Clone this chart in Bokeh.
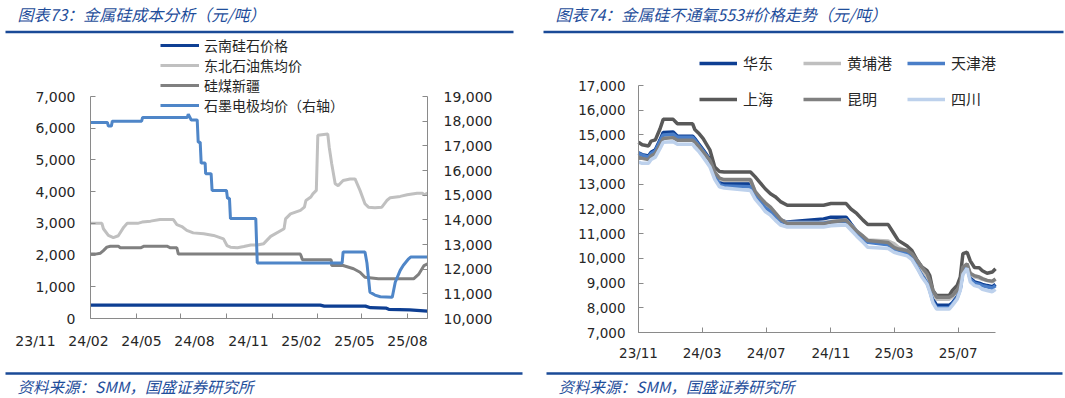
from datetime import datetime
import pandas as pd
from bokeh.plotting import figure
from bokeh.models import (Range1d, LinearAxis, DatetimeAxis, FixedTicker, NumeralTickFormatter,
                          DatetimeTickFormatter, Legend, LegendItem, Label,
                          CustomJSTickFormatter)
from bokeh.layouts import row, column
from bokeh.embed import file_html
from bokeh.resources import INLINE
from bokeh.core.properties import value

CJK = "Noto Sans CJK SC"
NUM = "DejaVu Sans"

# ---------------- texts ----------------
title_left = "图表73：金属硅成本分析（元/吨）"
title_right = "图表74：金属硅不通氧553#价格走势（元/吨）"
source_text = "资料来源：SMM，国盛证券研究所"

# ---------------- left chart data ----------------
left_names = ["云南硅石价格", "东北石油焦均价", "硅煤新疆", "石墨电极均价（右轴）"]

yn_dates = ["2023-11-01", "2025-02-06", "2025-02-14", "2025-05-08", "2025-05-18",
            "2025-06-18", "2025-06-24", "2025-08-05", "2025-09-10"]
yn_vals = [420, 420, 390, 390, 340, 330, 290, 270, 230]

coke_dates = ["2023-11-01", "2023-11-24", "2023-11-27", "2023-12-07", "2023-12-17",
              "2023-12-27", "2024-01-07", "2024-01-14", "2024-02-04", "2024-02-13",
              "2024-03-01", "2024-03-20", "2024-04-16", "2024-04-23", "2024-05-03",
              "2024-05-13", "2024-05-26", "2024-06-16", "2024-07-06", "2024-07-26",
              "2024-08-02", "2024-08-09", "2024-08-23", "2024-09-05", "2024-09-19",
              "2024-10-02", "2024-10-15", "2024-10-29", "2024-11-25", "2024-11-28",
              "2024-12-08", "2024-12-28", "2025-01-05", "2025-01-08", "2025-01-18",
              "2025-01-22", "2025-01-29", "2025-02-01", "2025-02-21", "2025-02-24",
              "2025-03-01", "2025-03-08", "2025-03-14", "2025-03-24", "2025-04-07",
              "2025-04-17", "2025-04-27", "2025-05-07", "2025-05-14", "2025-05-27",
              "2025-06-10", "2025-06-20", "2025-06-27", "2025-07-17", "2025-07-31",
              "2025-08-20", "2025-08-31", "2025-09-03", "2025-09-10"]
coke_vals = [3000, 3000, 2830, 2620, 2550, 2610, 2880, 3000, 3000, 3040,
             3070, 3120, 3120, 2960, 2900, 2780, 2700, 2670, 2620, 2510,
             2300, 2250, 2230, 2270, 2320, 2320, 2360, 2590, 2830, 3140,
             3300, 3410, 3510, 3720, 3830, 3930, 4040, 5780, 5820, 5400,
             4880, 4250, 4190, 4350, 4400, 4400, 4040, 3620, 3510, 3490,
             3510, 3720, 3810, 3850, 3900, 3950, 3950, 3900, 3950]

coal_dates = ["2023-11-01", "2023-11-11", "2023-11-21", "2023-11-27", "2023-12-04",
              "2023-12-11", "2023-12-27", "2023-12-31", "2024-02-10", "2024-02-17",
              "2024-04-03", "2024-04-10", "2024-04-23", "2024-04-26", "2024-12-28",
              "2025-01-01", "2025-02-28", "2025-03-01", "2025-03-24", "2025-04-14",
              "2025-04-27", "2025-05-07", "2025-06-03", "2025-08-13", "2025-08-23",
              "2025-09-03", "2025-09-10"]
coal_vals = [2030, 2030, 2060, 2140, 2250, 2280, 2280, 2230, 2230, 2280,
             2280, 2230, 2230, 2030, 2030, 1850, 1850, 1670, 1670, 1570,
             1460, 1300, 1250, 1250, 1390, 1670, 1720]

gr_dates = ["2023-11-01", "2023-12-05", "2023-12-07", "2023-12-13", "2023-12-15",
            "2024-02-12", "2024-02-14", "2024-05-14", "2024-05-16", "2024-05-22",
            "2024-06-03", "2024-06-05", "2024-06-09", "2024-06-11", "2024-06-19",
            "2024-06-20", "2024-07-01", "2024-07-03", "2024-08-01", "2024-08-03",
            "2024-08-07", "2024-08-09", "2024-09-29", "2024-10-02", "2025-03-22",
            "2025-03-24", "2025-05-07", "2025-05-11", "2025-05-17", "2025-05-27",
            "2025-06-07", "2025-07-01", "2025-07-07", "2025-07-17", "2025-07-23",
            "2025-08-03", "2025-08-07", "2025-09-10"]
gr_vals = [17950, 17950, 17800, 17800, 18000, 18000, 18150, 18150, 18280, 18050,
           18050, 17150, 17150, 16300, 16300, 15870, 15870, 15190, 15190, 14870,
           14870, 14050, 14050, 12250, 12250, 12700, 12700, 12250, 11070, 10950,
           10880, 10860, 11470, 11950, 12150, 12420, 12490, 12490]

left_xticks = ["2023-11-01", "2024-02-01", "2024-05-01", "2024-08-01",
               "2024-11-01", "2025-02-01", "2025-05-01", "2025-08-01"]
left_xlabels = ["23/11", "24/02", "24/05", "24/08", "24/11", "25/02", "25/05", "25/08"]

# ---------------- right chart data ----------------
right_names = ["华东", "黄埔港", "天津港", "上海", "昆明", "四川"]
rc_dates = ["2023-11-01", "2023-11-08", "2023-11-20", "2023-11-25", "2023-12-03",
            "2023-12-12", "2023-12-18", "2024-01-06", "2024-01-14", "2024-02-12",
            "2024-02-16", "2024-02-23", "2024-03-03", "2024-03-16", "2024-03-25",
            "2024-04-03", "2024-04-12", "2024-06-01", "2024-06-10", "2024-06-20",
            "2024-06-29", "2024-07-09", "2024-07-18", "2024-07-28", "2024-08-10",
            "2024-10-18", "2024-11-01", "2024-11-30", "2024-12-09", "2024-12-20",
            "2025-01-01", "2025-01-10", "2025-02-18", "2025-03-01", "2025-03-09",
            "2025-03-26", "2025-04-04", "2025-04-14", "2025-04-23", "2025-05-03",
            "2025-05-08", "2025-05-14", "2025-05-21", "2025-06-14", "2025-06-20",
            "2025-06-29", "2025-07-05", "2025-07-10", "2025-07-18", "2025-07-24",
            "2025-08-01", "2025-08-10", "2025-08-16", "2025-08-25", "2025-09-04",
            "2025-09-10"]
huadong = [14270, 14200, 14150, 14300, 14400, 14800, 15100, 15120, 14950, 14950,
           14850, 14650, 14400, 14000, 13450, 13100, 13030, 13030, 12600, 12350,
           12100, 11950, 11750, 11550, 11470, 11600, 11670, 11670, 11400, 11100,
           10850, 10700, 10600, 10400, 10330, 10250, 10100, 9750, 9400, 9100,
           8800, 8350, 8100, 8100, 8200, 8450, 8800, 9500, 9700, 9200,
           9050, 9000, 8950, 8900, 8850, 8950]
huangpu = [14150, 14100, 14050, 14200, 14300, 14650, 14900, 14900, 14800, 14800,
           14700, 14550, 14300, 13950, 13500, 13200, 13150, 13150, 12700, 12450,
           12200, 12000, 11800, 11550, 11450, 11450, 11500, 11550, 11350, 11100,
           10900, 10750, 10700, 10600, 10450, 10300, 10150, 9850, 9550, 9250,
           9000, 8600, 8350, 8350, 8450, 8650, 8950, 9600, 9750, 9350,
           9250, 9200, 9150, 9100, 9050, 9150]
tianjin = [14250, 14180, 14100, 14250, 14350, 14750, 15000, 15030, 14900, 14900,
           14800, 14600, 14350, 13950, 13400, 13000, 12930, 12900, 12550, 12300,
           12050, 11900, 11700, 11500, 11420, 11420, 11480, 11500, 11300, 11050,
           10800, 10650, 10550, 10350, 10280, 10200, 10000, 9650, 9300, 9000,
           8700, 8250, 8000, 8000, 8150, 8400, 8750, 9450, 9650, 9150,
           9000, 8950, 8900, 8850, 8800, 8900]
shanghai = [14700, 14600, 14550, 14750, 14800, 15250, 15630, 15630, 15450, 15450,
            15220, 15080, 14850, 14380, 13700, 13520, 13500, 13500, 13300, 13050,
            12820, 12620, 12500, 12300, 12150, 12150, 12220, 12220, 12000, 11820,
            11550, 11370, 11370, 11000, 10730, 10500, 10320, 9920, 9650, 9500,
            9300, 8700, 8500, 8500, 8700, 8900, 9240, 10190, 10250, 9900,
            9630, 9620, 9500, 9400, 9450, 9580]
kunming = [14100, 14050, 14000, 14150, 14250, 14600, 14850, 14890, 14780, 14780,
           14700, 14550, 14300, 13970, 13500, 13250, 13190, 13190, 12700, 12450,
           12250, 12080, 11850, 11600, 11400, 11400, 11470, 11540, 11340, 11100,
           10900, 10720, 10640, 10450, 10380, 10320, 10190, 9920, 9650, 9380,
           9110, 8700, 8430, 8430, 8500, 8700, 8970, 9650, 9780, 9400,
           9300, 9250, 9180, 9110, 9080, 9170]
sichuan = [13900, 13850, 13850, 14000, 14100, 14450, 14700, 14720, 14620, 14620,
           14500, 14350, 14100, 13700, 13200, 12900, 12850, 12750, 12400, 12150,
           11900, 11750, 11550, 11350, 11270, 11270, 11320, 11350, 11150, 10900,
           10650, 10450, 10400, 10250, 10200, 10100, 9950, 9600, 9250, 8950,
           8650, 8200, 7950, 7950, 8100, 8350, 8700, 9350, 9600, 9050,
           8900, 8850, 8750, 8700, 8650, 8750]

right_xticks = ["2023-11-01", "2024-03-01", "2024-07-01", "2024-11-01",
                "2025-03-01", "2025-07-01"]

# ---------------- styles / layout geometry (page pixels) ----------------
BLUE_TXT = "#1F4E9B"
RULE = "#1A4A97"
AX = "#8A8A8A"
LBL = "#262626"

PAGE_W, PAGE_H = 1065, 398
HDR_H, FTR_H = 34, 36
MID_TOP, MID_BOT = HDR_H, PAGE_H - FTR_H      # 34 .. 362
MID_H = MID_BOT - MID_TOP

x_start = datetime(2023, 11, 1)
x_end = datetime(2025, 9, 10)


def ms(d):
    return float(pd.Timestamp(d).value // 10**6)


def dt(lst):
    return pd.to_datetime(lst)


MS0, MS1 = ms(x_start), ms(x_end)


def style_axis(ax, size, standoff):
    ax.axis_line_color = AX
    ax.axis_line_width = 1
    ax.major_tick_line_color = AX
    ax.major_tick_in = 5
    ax.major_tick_out = 0
    ax.minor_tick_line_color = None
    ax.major_label_text_font = NUM
    ax.major_label_text_font_size = size
    ax.major_label_text_color = LBL
    ax.major_label_standoff = standoff


def ranges(fig_left, fig_w, px0, px1, py_top, py_bot, v0, v1):
    """Extend data ranges so that [v0, v1] sits on page pixels [py_bot, py_top]."""
    span = MS1 - MS0
    k = span / (px1 - px0)
    xr = (MS0 - (px0 - fig_left) * k, MS1 + (fig_left + fig_w - px1) * k)
    kv = (v1 - v0) / (py_bot - py_top)
    yr = (v0 - (MID_BOT - py_bot) * kv, v1 + (py_top - MID_TOP) * kv)
    return xr, yr


def new_fig(w, xr, yr):
    p = figure(width=w, height=MID_H, x_range=Range1d(*xr), y_range=Range1d(*yr),
               x_axis_location=None, y_axis_location=None, min_border=0,
               output_backend="svg", toolbar_location=None)
    p.grid.visible = False
    p.outline_line_color = None
    return p


def legend(p, rr, name, vx, vy, gw, standoff, fsize):
    p.add_layout(Legend(items=[LegendItem(label=name, renderers=[rr])], location=(vx, vy),
                        padding=0, margin=0, border_line_color=None, background_fill_alpha=0,
                        glyph_width=gw, glyph_height=20, label_height=20, label_standoff=standoff,
                        label_text_font=CJK, label_text_font_size=fsize,
                        label_text_color=LBL))


# ---------------- header ----------------
hdr = figure(width=PAGE_W, height=HDR_H, x_range=Range1d(0, PAGE_W), y_range=Range1d(HDR_H, 0),
             output_backend="svg", toolbar_location=None, min_border=0,
             x_axis_location=None, y_axis_location=None)
hdr.grid.visible = False
hdr.outline_line_color = None
hdr.text(x=[17, 555], y=[13.5, 13.5], text=[title_left, title_right],
         text_font=value(CJK), text_font_style="italic", text_font_size="16px",
         text_color=BLUE_TXT, text_baseline="middle", text_align="left")
hdr.segment(x0=[5, 543], x1=[513, 1063], y0=[31.5, 31.5], y1=[31.5, 31.5],
            line_width=2.5, line_color=RULE)

# ---------------- footer ----------------
ftr = figure(width=PAGE_W, height=FTR_H, x_range=Range1d(0, PAGE_W),
             y_range=Range1d(PAGE_H, MID_BOT),
             output_backend="svg", toolbar_location=None, min_border=0,
             x_axis_location=None, y_axis_location=None)
ftr.grid.visible = False
ftr.outline_line_color = None
ftr.segment(x0=[5, 546], x1=[522, 1062], y0=[373, 373], y1=[373, 373],
            line_width=2.5, line_color=RULE)
ftr.text(x=[17, 558], y=[385, 385], text=[source_text, source_text],
         text_font=value(CJK), text_font_style="italic", text_font_size="15.5px",
         text_color=BLUE_TXT, text_baseline="middle", text_align="left")

# ---------------- left chart ----------------
L_LEFT, L_W = 0, 533
xr1, yr1 = ranges(L_LEFT, L_W, 90, 427, 96, 318, 0, 7000)
_, yr1r = ranges(L_LEFT, L_W, 90, 427, 96, 318, 10000, 19000)
p1 = new_fig(L_W, xr1, yr1)
p1.extra_y_ranges = {"r": Range1d(*yr1r)}

ax_l = LinearAxis(fixed_location=MS0, bounds=(0, 7000),
                  ticker=FixedTicker(ticks=list(range(0, 7001, 1000))),
                  formatter=NumeralTickFormatter(format="0,0"))
ax_r = LinearAxis(y_range_name="r", fixed_location=MS1, bounds=(10000, 19000),
                  ticker=FixedTicker(ticks=list(range(10000, 19001, 1000))),
                  formatter=NumeralTickFormatter(format="0,0"))
ax_b = LinearAxis(fixed_location=0, bounds=(MS0, MS1),
                  ticker=FixedTicker(ticks=[ms(d) for d in left_xticks]),
                  formatter=CustomJSTickFormatter(code="return ''"))
style_axis(ax_l, "14px", 15)
style_axis(ax_r, "14px", 16)
style_axis(ax_b, "14px", 14)
p1.add_layout(ax_l, "left")
p1.add_layout(ax_r, "right")
p1.add_layout(ax_b, "below")

r_yn = p1.line(dt(yn_dates), yn_vals, line_color="#0E3F93", line_width=3.2)
r_coke = p1.line(dt(coke_dates), coke_vals, line_color="#C0C0C0", line_width=3)
r_coal = p1.line(dt(coal_dates), coal_vals, line_color="#808080", line_width=3)
r_gr = p1.line(dt(gr_dates), gr_vals, line_color="#4F86C8", line_width=3, y_range_name="r")

# legend rows (page y centres); glyph starts at page x 160
for rr, name, cy in zip([r_yn, r_coke, r_coal, r_gr], left_names, [45, 65, 85, 105]):
    legend(p1, rr, name, 160 - L_LEFT, MID_BOT - cy - 10, 39, 5, "14px")

# date labels of the left chart, spread as in the source picture
left_label_px = [35, 88, 141, 194, 248, 301, 354, 407]
for lab, cx in zip(left_xlabels, left_label_px):
    p1.add_layout(Label(x=cx - L_LEFT, y=MID_BOT - 340, x_units="screen", y_units="screen",
                        text=lab, text_align="center", text_baseline="middle",
                        text_font=NUM, text_font_size="14px", text_color=LBL))

# ---------------- right chart ----------------
R_LEFT, R_W = 533, 532
xr2, yr2 = ranges(R_LEFT, R_W, 638, 995, 85, 332, 7000, 17000)
p2 = new_fig(R_W, xr2, yr2)
ax_l2 = LinearAxis(fixed_location=MS0, bounds=(7000, 17000),
                   ticker=FixedTicker(ticks=list(range(7000, 17001, 1000))),
                   formatter=NumeralTickFormatter(format="0,0"))
ax_b2 = DatetimeAxis(fixed_location=7000, bounds=(MS0, MS1),
                     ticker=FixedTicker(ticks=[ms(d) for d in right_xticks]),
                     formatter=DatetimeTickFormatter(days="%y/%m", months="%y/%m", years="%y/%m"))
style_axis(ax_l2, "13.5px", 13)
style_axis(ax_b2, "13.5px", 12)
p2.add_layout(ax_l2, "left")
p2.add_layout(ax_b2, "below")

rdates = dt(rc_dates)
series = [huadong, huangpu, tianjin, shanghai, kunming, sichuan]
colors = ["#0E3F93", "#BFBFBF", "#4A7EC8", "#595959", "#808080", "#BDD1EC"]
rends = [p2.line(rdates, vals, line_color=c, line_width=3.5) for vals, c in zip(series, colors)]

leg_x = [699, 803, 907, 699, 803, 907]
leg_y = [63, 63, 63, 99, 99, 99]
for rr, name, gx, cy in zip(rends, right_names, leg_x, leg_y):
    legend(p2, rr, name, gx - R_LEFT, MID_BOT - cy - 10, 38, 6, "15px")

layout = column(hdr, row(p1, p2), ftr)
open("out.html", "w").write(file_html(layout, INLINE))
